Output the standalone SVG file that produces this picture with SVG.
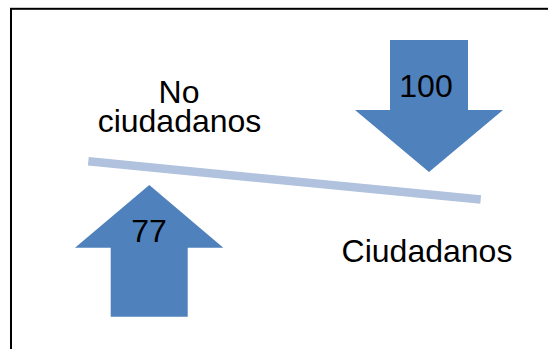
<svg xmlns="http://www.w3.org/2000/svg" width="548" height="349" viewBox="0 0 548 349">
  <style>
    .arrow { fill: #4F81BD; }
    .lbl { font-family: "Liberation Sans", Arial, sans-serif; font-size: 32px; fill: #000; text-anchor: middle; }
  </style>
  <rect x="0" y="0" width="548" height="349" fill="#fff"/>
  <rect x="11" y="8.8" width="600" height="400" fill="none" stroke="#000" stroke-width="2"/>
  <g id="connectors">
    <line x1="88.3" y1="161.3" x2="480.7" y2="199.6" stroke="#B0C2DE" stroke-width="8.5"/>
  </g>
  <g id="arrow-down">
    <polygon class="arrow" points="390,40 468,40 468,110 503,110 429,172 355,110 390,110"/>
    <text class="lbl" x="426" y="97">100</text>
  </g>
  <g id="arrow-up">
    <polygon class="arrow" points="149.3,185 223.3,247.7 187.7,247.7 187.7,316.7 110.7,316.7 110.7,247.7 75,247.7"/>
    <text class="lbl" x="149" y="242">77</text>
  </g>
  <g id="label-no-ciudadanos">
    <text class="lbl" x="179" y="103">No</text>
    <text class="lbl" x="179.5" y="131.5">ciudadanos</text>
  </g>
  <g id="label-ciudadanos">
    <text class="lbl" x="427" y="262">Ciudadanos</text>
  </g>
</svg>
